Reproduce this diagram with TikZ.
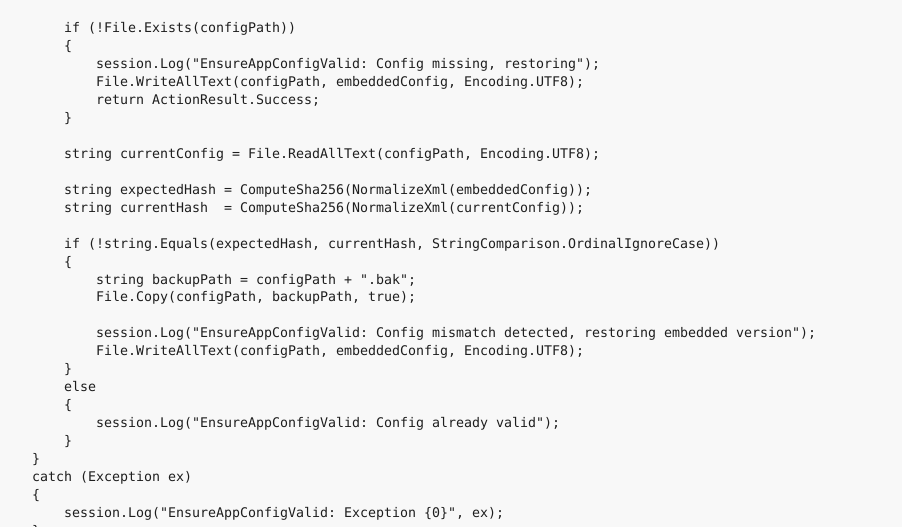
\documentclass[tikz,border=0pt]{standalone}
\usepackage{fontspec}
\setmonofont{DejaVu Sans Mono}
\definecolor{bgc}{RGB}{248,248,248}
\definecolor{txt}{RGB}{30,30,30}
\tikzset{codeline/.style={anchor=base west, inner sep=0pt, outer sep=0pt, text=txt,
  font=\ttfamily\fontsize{13.29}{18}\selectfont}}
\newcommand{\cl}[4]{\node[codeline] (#1) at ({8*#2},{33+17.93*#3}) {#4};}
\begin{document}
\begin{tikzpicture}[x=1pt,y=-1pt]
\useasboundingbox (0,0) rectangle (902,527);
\clip (0,0) rectangle (902,527);
\fill[bgc] (0,0) rectangle (902,527);
\cl{l0}{8}{0}{if (!File.Exists(configPath))}
\cl{l1}{8}{1}{\{}
\cl{l2}{12}{2}{session.Log("EnsureAppConfigValid: Config missing, restoring");}
\cl{l3}{12}{3}{File.WriteAllText(configPath, embeddedConfig, Encoding.UTF8);}
\cl{l4}{12}{4}{return ActionResult.Success;}
\cl{l5}{8}{5}{\}}
\cl{l7}{8}{7}{string currentConfig = File.ReadAllText(configPath, Encoding.UTF8);}
\cl{l9}{8}{9}{string expectedHash = ComputeSha256(NormalizeXml(embeddedConfig));}
\cl{l10}{8}{10}{string currentHash\ \ = ComputeSha256(NormalizeXml(currentConfig));}
\cl{l12}{8}{12}{if (!string.Equals(expectedHash, currentHash, StringComparison.OrdinalIgnoreCase))}
\cl{l13}{8}{13}{\{}
\cl{l14}{12}{14}{string backupPath = configPath + ".bak";}
\cl{l15}{12}{15}{File.Copy(configPath, backupPath, true);}
\cl{l17}{12}{17}{session.Log("EnsureAppConfigValid: Config mismatch detected, restoring embedded version");}
\cl{l18}{12}{18}{File.WriteAllText(configPath, embeddedConfig, Encoding.UTF8);}
\cl{l19}{8}{19}{\}}
\cl{l20}{8}{20}{else}
\cl{l21}{8}{21}{\{}
\cl{l22}{12}{22}{session.Log("EnsureAppConfigValid: Config already valid");}
\cl{l23}{8}{23}{\}}
\cl{l24}{4}{24}{\}}
\cl{l25}{4}{25}{catch (Exception ex)}
\cl{l26}{4}{26}{\{}
\cl{l27}{8}{27}{session.Log("EnsureAppConfigValid: Exception \{0\}", ex);}
\cl{l28}{4}{28}{\}}
\end{tikzpicture}
\end{document}
